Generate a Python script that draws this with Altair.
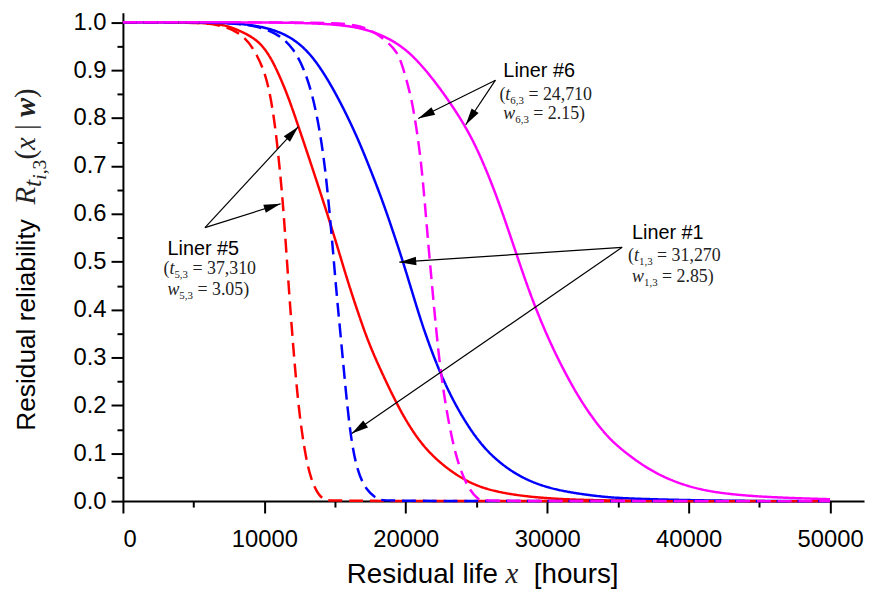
import math
import altair as alt
import pandas as pd

# ---------------- data ----------------
# Liner #5 (red), Liner #1 (blue), Liner #6 (magenta); solid and dashed curves
red_solid_x = [0, 4000, 6000, 7000, 7600, 8600, 9500, 10100, 10700, 11600, 12300, 13200, 13900, 14600,
               15300, 16000, 16700, 17400, 18400, 19300, 20200, 21600, 24000, 26300, 29800, 34000, 40000, 50000]
red_solid_y = [1.0, 1.0, 0.998, 0.995, 0.99, 0.978, 0.962, 0.942, 0.913, 0.852, 0.792, 0.713, 0.65, 0.586,
               0.518, 0.449, 0.387, 0.328, 0.262, 0.207, 0.158, 0.099, 0.043, 0.018, 0.005, 0.001, 0.0, 0.0]

red_dashed_x = [0, 5000, 7000, 8600, 9500, 10200, 10700, 11000, 11300, 11600, 11900, 12200, 12500,
                12900, 13300, 13800, 14300, 14700, 50000]
red_dashed_y = [1.0, 1.0, 0.995, 0.973, 0.932, 0.883, 0.80, 0.72, 0.63, 0.50, 0.375, 0.265, 0.175,
                0.095, 0.045, 0.013, 0.002, 0.0, 0.0]

blue_solid_x = [0, 6000, 9000, 11400, 13000, 14200, 15300, 16500, 17400, 18400, 19300, 19800, 20500,
                21200, 22300, 23500, 24900, 26300, 28200, 30500, 33300, 35000, 39600, 45000, 50000]
blue_solid_y = [1.0, 1.0, 0.997, 0.979, 0.944, 0.895, 0.838, 0.765, 0.70, 0.624, 0.545, 0.50, 0.432,
                0.364, 0.275, 0.20, 0.133, 0.087, 0.047, 0.023, 0.011, 0.006, 0.002, 0.0, 0.0]

blue_dashed_x = [0, 7000, 9000, 10900, 12100, 12800, 13400, 13900, 14300, 14600, 14850, 15100, 15400,
                 15700, 16050, 16500, 17200, 18100, 18500, 50000]
blue_dashed_y = [1.0, 1.0, 0.995, 0.979, 0.944, 0.903, 0.849, 0.778, 0.696, 0.607, 0.524, 0.435, 0.344,
                 0.248, 0.145, 0.068, 0.021, 0.002, 0.0, 0.0]

magenta_solid_x = [0, 10000, 14000, 17000, 19300, 20700, 22100, 23300, 24200, 25100, 26300, 27500,
                   28600, 29800, 31000, 32400, 33800, 34900, 37300, 39600, 41900, 45400, 50000]
magenta_solid_y = [1.0, 1.0, 0.998, 0.99, 0.96, 0.925, 0.875, 0.825, 0.783, 0.733, 0.648, 0.545,
                   0.447, 0.357, 0.282, 0.207, 0.15, 0.115, 0.062, 0.033, 0.017, 0.008, 0.004]

magenta_dashed_x = [0, 14000, 16500, 17900, 19300, 19700, 20050, 20400, 20700, 21090, 21440, 21700,
                    22000, 22350, 22840, 23540, 24380, 25150, 25500, 50000]
magenta_dashed_y = [1.0, 1.0, 0.996, 0.979, 0.944, 0.915, 0.88, 0.84, 0.79, 0.71, 0.59, 0.50,
                    0.405, 0.296, 0.193, 0.089, 0.027, 0.002, 0.0, 0.0]

x_major_ticks = [0, 10000, 20000, 30000, 40000, 50000]
y_major_ticks = [0.0, 0.1, 0.2, 0.3, 0.4, 0.5, 0.6, 0.7, 0.8, 0.9, 1.0]

# annotation arrows (data units): from label to curve
arrow_from_x = [5800, 5800, 26340, 26340, 35300, 35300]
arrow_from_y = [0.571, 0.571, 0.879, 0.879, 0.530, 0.530]
arrow_to_x = [12400, 11150, 20880, 24240, 19545, 16180]
arrow_to_y = [0.782, 0.621, 0.799, 0.786, 0.499, 0.141]

# ---------------- layout ----------------
XMAX, YMAX = 52400, 1.02
W, H = 748, 493

SANS_W = {'R': .722, 'e': .556, 's': .5, 'i': .222, 'd': .556, 'u': .556, 'a': .556, 'l': .222,
          ' ': .278, 'r': .333, 'b': .556, 't': .278, 'y': .5, 'f': .278, '[': .278, ']': .278,
          'h': .556, 'o': .556, 'L': .556, 'n': .556, '#': .556}
SERIF_W = {'(': .333, ')': .333, ' ': .25, '=': .564, ',': .25, '.': .25, '|': .2}
SERIF_I_W = {'t': .278, 'w': .667, 'x': .444, 'R': .611, 'i': .278, ',': .25, ' ': .25}
SERIF_BI_W = {'w': .667}
TABLES = {"sans": SANS_W, "serif": SERIF_W, "serif-i": SERIF_I_W, "serif-bi": SERIF_BI_W}


def text_width(text, style, size):
    tbl = TABLES[style]
    default = .556 if style == "sans" else .5
    return sum(tbl.get(c, default) for c in text) * size


def run(x0, y0, pieces, angle=0):
    rows = []
    adv = 0.0
    for text, style, size, shift in pieces:
        lead = len(text) - len(text.lstrip(" "))
        a = adv + text_width(text[:lead], style, size)
        if angle == 0:
            x = x0 + a * XMAX / W
            y = y0 - shift * YMAX / H
        else:
            x = x0 + shift * XMAX / W
            y = y0 + a * YMAX / H
        rows.append(dict(x=x, y=y, text=text.strip(" "), style=style, size=size, angle=angle))
        adv += text_width(text, style, size)
    return rows


texts = []
# y axis title (rotated)
texts += run(-6235, 0.147, [("Residual reliability  ", "sans", 26.5, 0), ("R", "serif-i", 29, 0),
                            ("t", "serif-i", 26, 6), ("i", "serif-i", 20, 11), (",3", "serif", 20, 11),
                            ("(", "serif", 29, 0), ("x", "serif-i", 29, 0), (" | ", "serif", 29, 0),
                            ("w", "serif-bi", 29, 0), (")", "serif", 29, 0)], angle=270)
# x axis title
texts += run(15830, -0.172, [("Residual life ", "sans", 28, 0), ("x", "serif-i", 29, 0),
                             ("  [hours]", "sans", 28, 0)])


def label(x0, y0, y1, y2, num, t, w):
    out = run(x0, y0, [("Liner #" + num, "sans", 20, 0)])
    out += run(x0 - 4 * XMAX / W, y1, [("(", "serif", 18, 0), ("t", "serif-i", 18, 0),
                                        (num + ",3", "serif", 11, 4), (" = " + t, "serif", 18, 0)])
    out += run(x0, y2, [("w", "serif-i", 18, 0), (num + ",3", "serif", 11, 4),
                        (" = " + w + ")", "serif", 18, 0)])
    return out


texts += label(3150, 0.513, 0.474, 0.430, "5", "37,310", "3.05")
texts += label(26900, 0.886, 0.838, 0.797, "6", "24,710", "2.15")
texts += label(36000, 0.548, 0.501, 0.457, "1", "31,270", "2.85")
text_df = pd.DataFrame(texts)

# ---------------- curves table ----------------
series = [
    ("#5 solid", red_solid_x, red_solid_y, "solid"),
    ("#1 solid", blue_solid_x, blue_solid_y, "solid"),
    ("#6 solid", magenta_solid_x, magenta_solid_y, "solid"),
    ("#5 dashed", red_dashed_x, red_dashed_y, "dashed"),
    ("#1 dashed", blue_dashed_x, blue_dashed_y, "dashed"),
    ("#6 dashed", magenta_dashed_x, magenta_dashed_y, "dashed"),
]
rows = []
for name, xs, ys, dash in series:
    for order, (xv, yv) in enumerate(zip(xs, ys)):
        rows.append(dict(curve=name, x=xv, y=yv, dash=dash, order=order))
curves = pd.DataFrame(rows)
curve_names = [s[0] for s in series]
curve_colors = ["#ff0000", "#0000ff", "#ff00ff", "#ff0000", "#0000ff", "#ff00ff"]

# arrows
arr_rows = []
for fx, fy, tx, ty in zip(arrow_from_x, arrow_from_y, arrow_to_x, arrow_to_y):
    dxp = (tx - fx) * W / XMAX
    dyp = -(ty - fy) * H / YMAX
    ang = math.degrees(math.atan2(dxp, -dyp)) % 360
    arr_rows.append(dict(x=fx, y=fy, x2=tx, y2=ty, angle=ang))
arrows = pd.DataFrame(arr_rows)

xscale = alt.Scale(domain=[0, XMAX], nice=False, zero=False)
yscale = alt.Scale(domain=[0, YMAX], nice=False, zero=False)

x_vals = list(range(0, 50001, 5000))
y_vals = [round(i * 0.05, 2) for i in range(21)]

x_axis = alt.Axis(values=x_vals, format="d", title=None, grid=False,
                  labelExpr="datum.value % 10000 === 0 ? datum.label : ''",
                  tickSize={"condition": {"test": "datum.value % 10000 === 0", "value": 12}, "value": 6},
                  domainColor="black", domainWidth=2, tickColor="black", tickWidth=2,
                  labelFont="Liberation Sans", labelFontSize=24, labelColor="black",
                  labelPadding=15, labelOverlap=False)
y_axis = alt.Axis(values=y_vals, format=".1f", title=None, grid=False,
                  labelExpr="round(datum.value * 100) % 10 === 0 ? datum.label : ''",
                  tickSize={"condition": {"test": "round(datum.value * 100) % 10 === 0", "value": 12}, "value": 6},
                  domainColor="black", domainWidth=2, tickColor="black", tickWidth=2,
                  labelFont="Liberation Sans", labelFontSize=24, labelColor="black",
                  labelPadding=5, labelOverlap=False)

X = lambda f: alt.X(f, scale=xscale, axis=x_axis, title=None)
Y = lambda f: alt.Y(f, scale=yscale, axis=y_axis, title=None)

lines = alt.Chart(curves).mark_line(interpolate="basis", strokeWidth=2.5).encode(
    x=X("x:Q"),
    y=Y("y:Q"),
    color=alt.Color("curve:N", scale=alt.Scale(domain=curve_names, range=curve_colors), legend=None),
    strokeDash=alt.StrokeDash("dash:N", scale=alt.Scale(domain=["solid", "dashed"], range=[[1, 0], [14, 7]]),
                              legend=None),
    order="order:Q",
)

rules = alt.Chart(arrows).mark_rule(color="black", strokeWidth=1.2).encode(
    x=X("x:Q"), y=Y("y:Q"), x2="x2:Q", y2="y2:Q",
)
heads = alt.Chart(arrows).mark_point(shape="M0,0L0.25,1L-0.25,1Z", filled=True, size=1156,
                                     color="black", opacity=1, strokeWidth=0).encode(
    x=X("x2:Q"), y=Y("y2:Q"),
    angle=alt.Angle("angle:Q", scale=None),
)


def text_layer(style, font, font_style, font_weight, color):
    return alt.Chart(text_df).transform_filter(alt.datum.style == style).mark_text(
        align="left", baseline="alphabetic", font=font, fontStyle=font_style,
        fontWeight=font_weight, color=color,
    ).encode(
        x=X("x:Q"),
        y=Y("y:Q"),
        text="text:N",
        size=alt.Size("size:Q", scale=None),
        angle=alt.Angle("angle:Q", scale=None),
    )


layers = [
    lines, rules, heads,
    text_layer("sans", "Liberation Sans", "normal", "normal", "black"),
    text_layer("serif", "Liberation Serif", "normal", "normal", "#222222"),
    text_layer("serif-i", "Liberation Serif", "italic", "normal", "#222222"),
    text_layer("serif-bi", "Liberation Serif", "italic", "bold", "#222222"),
]

chart = alt.layer(*layers).properties(
    width=W, height=H,
    autosize=alt.AutoSizeParams(type="none"),
    padding={"left": 116, "top": 2, "right": 2, "bottom": 88},
).configure(background="white").configure_view(stroke=None)

chart.save("out.html", embed_options={"renderer": "svg", "actions": False})
